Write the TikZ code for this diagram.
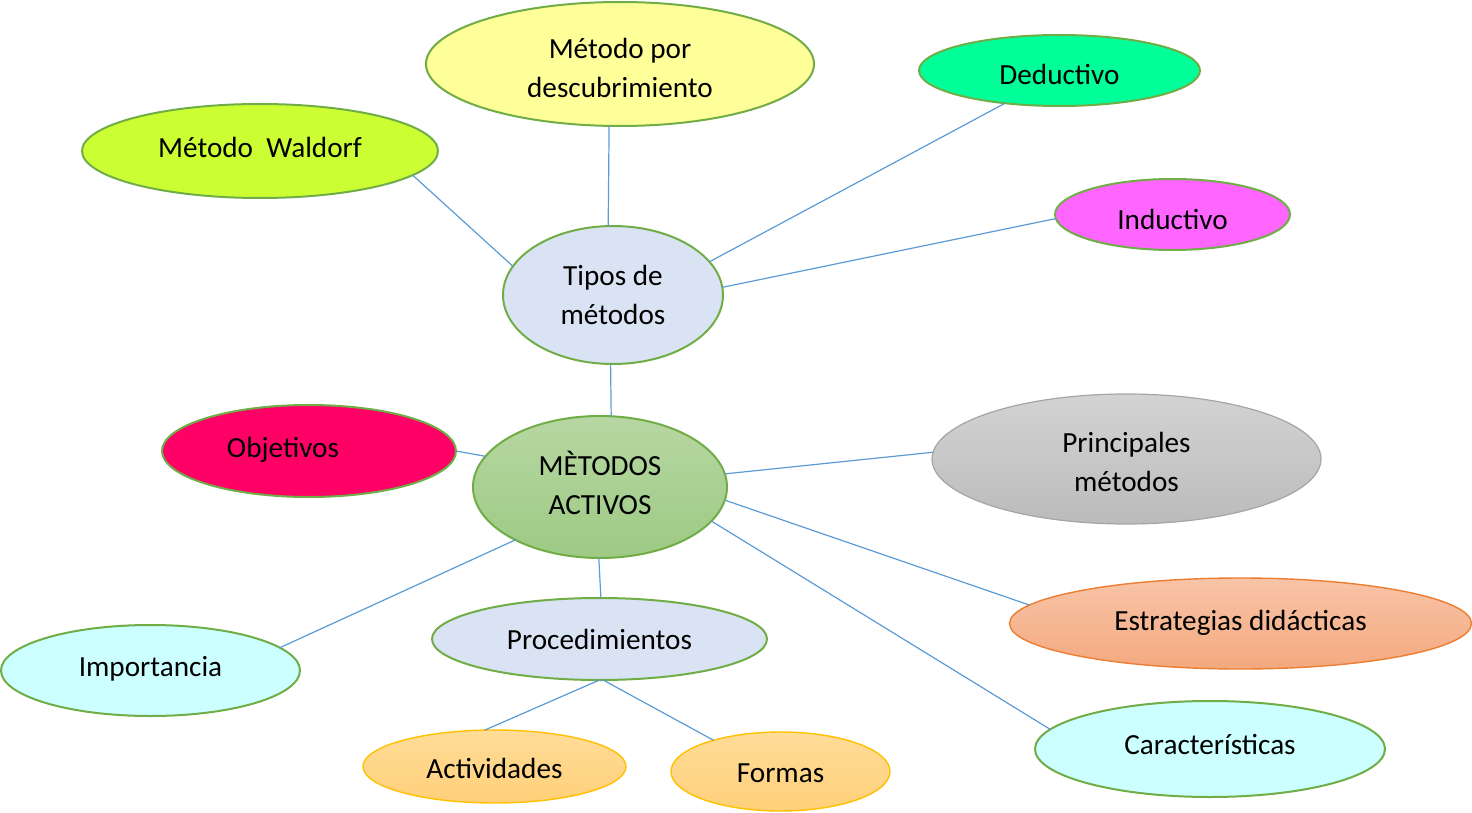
\documentclass[tikz,border=0pt]{standalone}
\usepackage{fontspec}
\setmainfont{Carlito}
\usetikzlibrary{shapes.geometric}
\definecolor{gborder}{HTML}{70AD47}
\definecolor{lineblue}{HTML}{5B9BD5}
\definecolor{cyellow}{HTML}{FFFF99}
\definecolor{cdeduc}{HTML}{00FF99}
\definecolor{cwald}{HTML}{CCFF33}
\definecolor{cinduc}{HTML}{FF66FF}
\definecolor{cpale}{HTML}{DAE3F3}
\definecolor{cred}{HTML}{FF0066}
\definecolor{ccyan}{HTML}{CCFFFF}
\definecolor{actTop}{HTML}{B7D7A2}
\definecolor{actBot}{HTML}{9DCA84}
\definecolor{grTop}{HTML}{D3D3D3}
\definecolor{grBot}{HTML}{BBBBBB}
\definecolor{grBorder}{HTML}{A5A5A5}
\definecolor{orTop}{HTML}{F8C4A7}
\definecolor{orBot}{HTML}{F4A97F}
\definecolor{orBorder}{HTML}{ED7D31}
\definecolor{goTop}{HTML}{FFDC98}
\definecolor{goBot}{HTML}{FFD07A}
\definecolor{goBorder}{HTML}{FFC000}
\begin{document}
\begin{tikzpicture}[x=0.5pt,y=-0.5pt,
  bubtext/.style={font=\fontsize{14.6}{19.5}\selectfont, text=black, align=center},
  bub/.style={ellipse, inner sep=0pt, outer sep=0pt, bubtext},
  gb/.style={bub, draw=gborder, line width=1pt},
  txt/.style n args={3}{label={[bubtext, xshift=#1, yshift=#2]center:#3}},
  conn/.style={draw=lineblue, line width=0.6pt}]
\useasboundingbox (0,0) rectangle (1472,813);

% top group
\node[gb, fill=cyellow, minimum width=194pt, minimum height=62pt,
      txt={0pt}{-1.75pt}{Método por\\descubrimiento}] (desc) at (620,64) {};
\node[gb, fill=cdeduc, minimum width=140.5pt, minimum height=35.5pt,
      txt={0pt}{-2pt}{Deductivo}] (deduc) at (1059.5,70.5) {};
\node[gb, fill=cwald, minimum width=178pt, minimum height=47pt,
      txt={0pt}{2pt}{Método~ Waldorf}] (wald) at (260,151) {};
\node[gb, fill=cinduc, minimum width=117.5pt, minimum height=35.5pt,
      txt={0pt}{-2.5pt}{Inductivo}] (induc) at (1172.5,214.5) {};
\node[gb, fill=cpale, minimum width=110pt, minimum height=69pt] (tipos) at (613,295) {Tipos de\\métodos};

% middle
\node[gb, fill=cred, minimum width=147pt, minimum height=46pt,
      txt={-13pt}{0.5pt}{Objetivos}] (obj) at (309,451) {};
\node[gb, top color=actTop, bottom color=actBot, minimum width=127pt, minimum height=71pt,
      txt={0pt}{2pt}{MÈTODOS\\ACTIVOS}] (activos) at (600,487) {};
\node[bub, draw=grBorder, line width=0.6pt, top color=grTop, bottom color=grBot, minimum width=194.5pt, minimum height=65pt,
      txt={0pt}{-1.25pt}{Principales\\métodos}] (princ) at (1126.5,459) {};
\node[bub, draw=orBorder, line width=0.7pt, top color=orTop, bottom color=orBot, minimum width=231pt, minimum height=45.5pt,
      txt={0pt}{0.5pt}{Estrategias didácticas}] (estr) at (1240.5,623.5) {};

% bottom
\node[gb, fill=ccyan, minimum width=149.5pt, minimum height=45.5pt,
      txt={0pt}{1pt}{Importancia}] (impor) at (150.5,670.5) {};
\node[gb, fill=cpale, minimum width=167.5pt, minimum height=41pt] (proc) at (599.5,639) {Procedimientos};
\node[gb, fill=ccyan, minimum width=175pt, minimum height=48pt,
      txt={0pt}{2pt}{Características}] (carac) at (1210,749) {};
\node[bub, draw=goBorder, line width=0.7pt, top color=goTop, bottom color=goBot, minimum width=131.5pt, minimum height=36.5pt,
      txt={0pt}{-1pt}{Actividades}] (activ) at (494.5,766.5) {};
\node[bub, draw=goBorder, line width=0.7pt, top color=goTop, bottom color=goBot, minimum width=109.5pt, minimum height=39.5pt,
      txt={0pt}{-1pt}{Formas}] (formas) at (780.5,771.5) {};

% connectors
\draw[conn] (wald.-9.9) -- (tipos.164.2);
\draw[conn] (desc.260.2) -- (tipos.94.7);
\draw[conn] (deduc.211.7) -- (tipos.19.8);
\draw[conn] (induc.182.4) -- (tipos.4.4);
\draw[conn] (tipos.268.4) -- (activos.81.7);
\draw[conn] (obj.0) -- (activos.165.7);
\draw[conn] (activos.6.3) -- (princ.178.2);
\draw[conn] (activos.-6.4) -- (estr.175.7);
\draw[conn] (activos.-17.4) -- (carac.173.8);
\draw[conn] (activos.212.2) -- (impor.10.7);
\draw[conn] (activos.269.2) -- (proc.88.5);
\draw[conn] (proc.270) -- (activ.105.4);
\draw[conn] (proc.275.3) -- (formas.155.5);
\end{tikzpicture}
\end{document}
